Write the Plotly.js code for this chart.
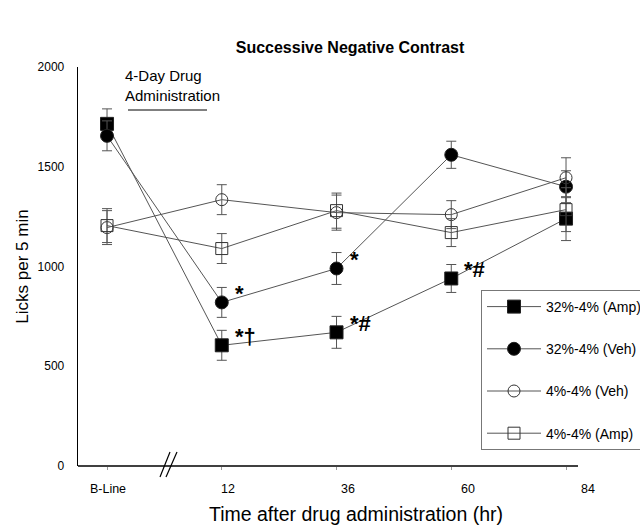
<!DOCTYPE html>
<html>
<head>
<meta charset="utf-8">
<script src="https://cdn.plot.ly/plotly-3.0.1.min.js"></script>
<style>html,body{margin:0;padding:0;background:#fff;}#chart{width:640px;height:525px;}</style>
</head>
<body>
<div id="chart"></div>
<script>
// ---- data ----
const timeLabels = ['B-Line', '12', '36', '60', '84'];
const xPos = [0, 1, 2, 3, 4];

const amp32 = [1715, 605, 670, 940, 1240];
const amp32Err = [75, 75, 80, 70, 110];
const amp32Sig = ['', '*†', '*#', '*#', ''];

const veh32 = [1655, 820, 990, 1560, 1400];
const veh32Err = [75, 75, 80, 68, 80];
const veh32Sig = ['', '*', '*', '', ''];

const veh4 = [1195, 1335, 1270, 1260, 1445];
const veh4Err = [85, 75, 88, 70, 100];

const amp4 = [1205, 1090, 1280, 1170, 1285];
const amp4Err = [85, 75, 88, 70, 110];

const seriesNames = ['32%-4% (Amp)', '32%-4% (Veh)', '4%-4% (Veh)', '4%-4% (Amp)'];

// ---- layout constants ----
const L = 78, R = 40, T = 67, B = 59, W = 640, H = 525;
const pw = W - L - R, ph = H - T - B;
const px = v => (v - L) / pw;
const py = v => (H - B - v) / ph;

function series(name, y, err, symbol, color, size, group) {
  return {
    x: xPos, y: y, name: name, type: 'scatter', mode: 'lines+markers',
    legendgroup: group,
    line: {color: '#555', width: 1},
    marker: {symbol: symbol, size: size, color: color, line: {color: '#222', width: 1}},
    error_y: {type: 'data', array: err, visible: true, color: '#555', thickness: 1, width: 5},
    cliponaxis: false
  };
}

const data = [
  series(seriesNames[0], amp32, amp32Err, 'square', '#000', 13, 'g1'),
  series(seriesNames[1], veh32, veh32Err, 'circle', '#000', 13, 'g2'),
  series(seriesNames[2], veh4, veh4Err, 'circle-open', '#333', 12, 'g3'),
  series(seriesNames[3], amp4, amp4Err, 'square-open', '#333', 12, 'g4'),
  // helper trace (invisible) so the label axis is drawn
  {x: xPos, y: amp32, xaxis: 'x2', yaxis: 'y', type: 'scatter', mode: 'markers',
   marker: {opacity: 0}, showlegend: false, hoverinfo: 'skip'}
];

const font = 'Liberation Sans, Arial, sans-serif';

// significance marks, placed at the data points through the axes
const sigAnns = [];
[[amp32, amp32Sig], [veh32, veh32Sig]].forEach(([vals, sig]) => {
  sig.forEach((s, i) => {
    if (!s) return;
    sigAnns.push({xref: 'x', yref: 'y', x: xPos[i], y: vals[i], text: '<b>' + s + '</b>',
      showarrow: false, xanchor: 'left', yanchor: 'middle', xshift: 11, yshift: 9,
      font: {family: font, size: 22, color: '#000'}});
  });
});

const layout = {
  width: W, height: H,
  margin: {l: L, r: R, t: T, b: B, autoexpand: false},
  paper_bgcolor: '#fff', plot_bgcolor: '#fff',
  font: {family: font, color: '#000', size: 12},
  title: {text: '<b>Successive Negative Contrast</b>', x: 350 / W, xanchor: 'center',
          y: 1 - 47 / H, yanchor: 'middle', font: {family: font, size: 16, color: '#000'}},
  xaxis: {
    range: [-0.253, -0.253 + pw / 114.75], showgrid: false, zeroline: false,
    showline: false, automargin: false,
    tickvals: xPos, ticktext: ['', '', '', '', ''], ticks: 'outside', ticklen: 3, tickcolor: '#999'
  },
  xaxis2: {
    overlaying: 'x', anchor: 'y', side: 'bottom', range: [-0.25, -0.25 + pw / 120],
    showgrid: false, zeroline: false, showline: false, ticks: '', automargin: false,
    tickvals: xPos, ticktext: timeLabels, ticklabelstandoff: 13,
    tickfont: {family: font, size: 12.5, color: '#000'}
  },
  yaxis: {
    range: [0, 2000], showgrid: false, zeroline: false, automargin: false,
    showline: true, linecolor: '#000', linewidth: 1.3,
    tickvals: [0, 500, 1000, 1500, 2000], ticks: '', ticklabelstandoff: 10,
    tickfont: {family: font, size: 12, color: '#000'},
    title: {text: 'Licks per 5 min', standoff: 4,
            font: {family: 'Liberation Sans Narrow, Arial Narrow, sans-serif', size: 17, color: '#000'}}
  },
  showlegend: true,
  legend: {
    x: px(481), y: py(290), xanchor: 'left', yanchor: 'top',
    bgcolor: '#fff', bordercolor: '#777', borderwidth: 1,
    font: {family: font, size: 14, color: '#000'},
    itemwidth: 54, tracegroupgap: 21, traceorder: 'grouped'
  },
  annotations: [
    {xref: 'paper', yref: 'paper', x: px(123), y: py(85), xanchor: 'left', yanchor: 'middle',
     align: 'left', showarrow: false, text: '4-Day Drug<br>Administration',
     font: {family: font, size: 15, color: '#000'}},
    {xref: 'paper', yref: 'paper', x: px(356), y: py(514), xanchor: 'center', yanchor: 'middle',
     showarrow: false, text: 'Time after drug administration (hr)',
     font: {family: font, size: 19.5, color: '#000'}}
  ].concat(sigAnns),
  shapes: [
    // x axis line
    {type: 'line', xref: 'paper', yref: 'paper', x0: 0, x1: px(578), y0: 0, y1: 0,
     line: {color: '#000', width: 1.3}},
    {type: 'line', xref: 'paper', yref: 'paper', x0: px(128), x1: px(207), y0: py(110), y1: py(110),
     line: {color: '#000', width: 1}},
    {type: 'line', xref: 'paper', yref: 'paper', x0: px(160), x1: px(170), y0: py(477), y1: py(452),
     line: {color: '#000', width: 1.2}},
    {type: 'line', xref: 'paper', yref: 'paper', x0: px(166), x1: px(177), y0: py(477), y1: py(452),
     line: {color: '#000', width: 1.2}}
  ]
};

Plotly.newPlot('chart', data, layout, {displayModeBar: false, staticPlot: true});
</script>
</body>
</html>
